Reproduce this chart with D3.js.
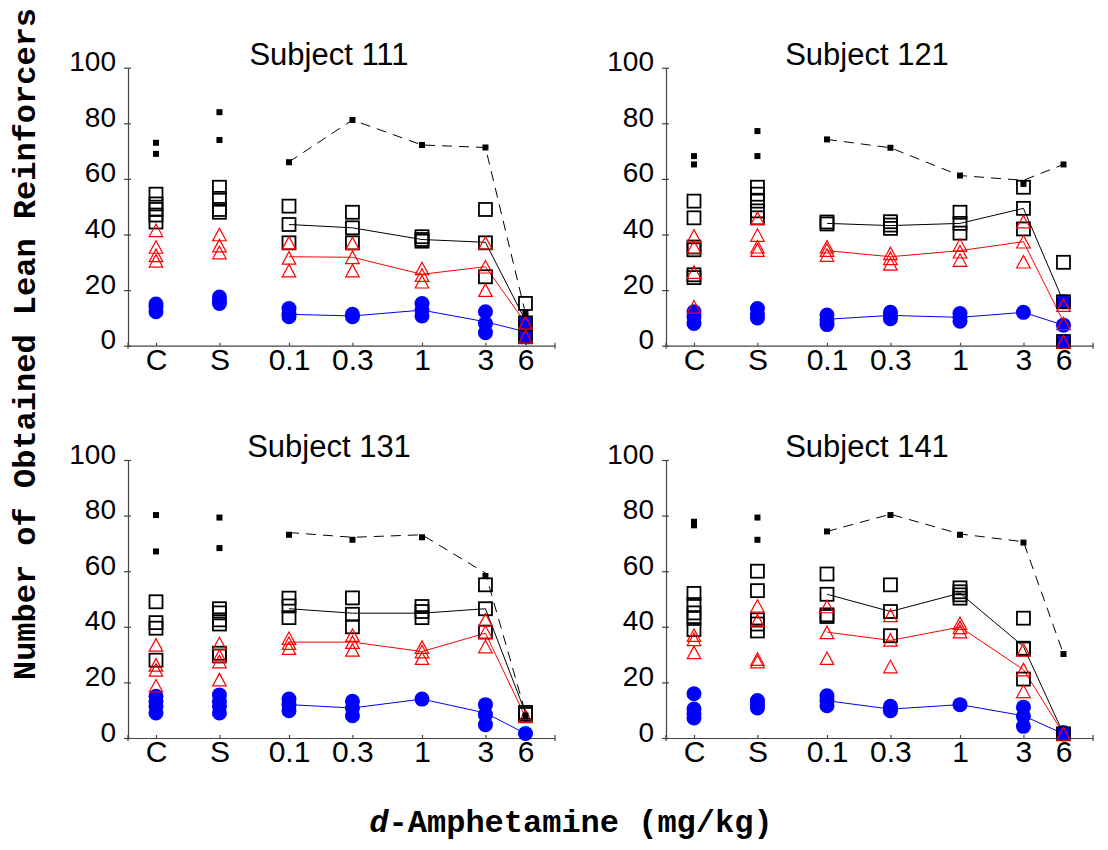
<!DOCTYPE html>
<html>
<head>
<meta charset="utf-8">
<script src="https://cdn.jsdelivr.net/npm/d3@7"></script>
<style>
  body { margin: 0; background: #fff; }
  svg { display: block; }
</style>
</head>
<body>
<svg id="chart" width="1108" height="850"></svg>
<script>
// x categories, drawn on a log dose axis (C and S sit at pseudo-doses)
const categories = ['C', 'S', '0.1', '0.3', '1', '3', '6'];
const dosePos = [0.01, 0.03, 0.1, 0.3, 1, 3, 6];
const lineIdx = [2, 3, 4, 5, 6];   // categories joined by the mean lines
const yTicks = [0, 20, 40, 60, 80, 100];
const subjects = ['Subject 111', 'Subject 121', 'Subject 131', 'Subject 141'];

// Subject 111
const s111Dots = [[73, 69], [84, 74], [66], [81.2], [72.2], [71.3], [11.6]];
const s111Dash = [66.1, 81.2, 72.2, 71.3, 11.6];
const s111Squares = [[54.5, 51, 49, 47, 44.5], [57, 53, 49, 48], [50.2, 43.6, 37], [48, 42.4, 37], [39.2, 38.2, 37.6], [49, 37, 24.8], [15.2, 8.2, 3.2]];
const s111SquareMean = [43.6, 42.4, 38.2, 37.2, 9];
const s111Triangles = [[41.5, 35.5, 32.5, 30.5], [40, 36, 33.5], [37, 31.6, 27], [36.8, 31.8, 27], [27.8, 25.4, 23], [37, 28.4, 20], [8.2, 3.2]];
const s111TriMean = [32, 31.8, 25.7, 28.4, 8.2];
const s111Circles = [[15, 14, 12.2], [17.5, 16, 15.2], [13.4, 11.5, 10.4], [11.3, 10.4], [15.2, 12.8, 10.7], [12.2, 8, 4.7], [8.2, 6, 3.2]];
const s111CircleMean = [11.3, 10.7, 12.8, 8.6, 5];

// Subject 121
const s121Dots = [[68.2, 65.2], [77.2, 68.2], [74.2], [71.2], [61.2], [58.2], [65.2]];
const s121Dash = [74.2, 71.2, 61.2, 59.5, 65.2];
const s121Squares = [[52, 46, 35.5, 34.5, 25.5, 24.5], [57, 54.5, 52, 48.5, 46], [44.5, 43.8], [44.6, 43.4, 42.2], [48, 44, 40.5], [57, 49.4, 42], [30, 15.8, 1.5]];
const s121SquareMean = [44, 43.2, 44, 49.4, 15.8];
const s121Triangles = [[39.5, 35.5, 26.5, 14], [45.8, 39.8, 35.6, 34.4], [35.6, 34.4, 32.6], [33.2, 31.4, 29.4], [36.2, 33.8, 30.8], [44.6, 37.4, 30.2], [14.6, 8, 1.4]];
const s121TriMean = [34.2, 32, 34.2, 37.4, 8.6];
const s121Circles = [[12.2, 10.4, 8], [13.4, 11.4, 10], [11, 9.2, 7.6], [12, 10.7, 9.7], [11.6, 10.2, 8.8], [12], [15.8, 7.4, 1.5]];
const s121CircleMean = [9.5, 10.9, 10.2, 12, 7.4];

// Subject 131
const s131Dots = [[80.2, 67.1], [79.3, 68.3], [73.1], [71.3], [72.2], [58.3], [8.1]];
const s131Dash = [73.9, 72.2, 73.1, 59.3, 9];
const s131Squares = [[49, 41.5, 39.5, 28], [46.5, 45, 42.5, 41, 30.5, 29.5], [50.3, 47.5, 43.3], [50.4, 44.5, 40], [47.3, 45.5, 43.3], [55.1, 46.5, 38.1], [9.2, 8.5]];
const s131SquareMean = [46.5, 44.9, 44.9, 46.5, 9];
const s131Triangles = [[33.5, 26.3, 24.5, 18.8], [34, 29.5, 27.5, 21], [35.9, 34.1, 32.3], [37, 34.5, 31.7], [32.7, 31.1, 28.7], [42.5, 38.1, 32.9], [7.8]];
const s131TriMean = [34.5, 34.5, 31.1, 37.7, 7.5];
const s131Circles = [[15, 13.2, 11.4, 9], [15.5, 13.2, 11.4, 9], [14, 12, 9.8], [13.2, 10.8, 8], [14], [12, 8.4, 4.8], [1.6]];
const s131CircleMean = [12, 10.8, 14, 9, 1.6];

// Subject 141
const s141Dots = [[77.8, 76.5], [79.3, 71.3], [74.3], [80.2], [73.1], [70.3], [30.2]];
const s141Dash = [74.3, 80.5, 73.4, 70.6, 30.2];
const s141Squares = [[52, 48, 45, 43, 39], [60, 53, 42.5, 41, 38.5], [59, 51.7, 44.3, 43.7], [55.1, 45.5, 36.8], [54, 52.6, 51.5, 50.3], [43.1, 32.3, 32, 21.2], [1.5]];
const s141SquareMean = [51.7, 45.5, 52.1, 32.9, 1.5];
const s141Triangles = [[37, 35.5, 30.8], [47.5, 42.2, 28.4, 27.5], [47.3, 38, 28.7], [44.1, 35.3, 25.7], [41.3, 39.8, 38.3], [31.7, 24.6, 16.8], [1.5]];
const s141TriMean = [38.1, 35.1, 39.9, 24.6, 1.5];
const s141Circles = [[15.9, 10.4, 8.7, 7.2], [13.5, 12, 10.8], [15.2, 13.5, 11.6], [11.4, 10.4, 9.8], [12], [11.1, 7.8, 4.2], [2, 1.5]];
const s141CircleMean = [13.4, 10.4, 12, 8, 1.5];

const panelData = [
    {title: subjects[0], dots: s111Dots, dash: s111Dash, squares: s111Squares, squareMean: s111SquareMean, tris: s111Triangles, triMean: s111TriMean, circles: s111Circles, circleMean: s111CircleMean},
    {title: subjects[1], dots: s121Dots, dash: s121Dash, squares: s121Squares, squareMean: s121SquareMean, tris: s121Triangles, triMean: s121TriMean, circles: s121Circles, circleMean: s121CircleMean},
    {title: subjects[2], dots: s131Dots, dash: s131Dash, squares: s131Squares, squareMean: s131SquareMean, tris: s131Triangles, triMean: s131TriMean, circles: s131Circles, circleMean: s131CircleMean},
    {title: subjects[3], dots: s141Dots, dash: s141Dash, squares: s141Squares, squareMean: s141SquareMean, tris: s141Triangles, triMean: s141TriMean, circles: s141Circles, circleMean: s141CircleMean}
];

// panel origins (top-left of plot area)
const origins = [[128, 67.7], [666, 67.7], [128, 460], [666, 460]];
const plotW = 427, plotH = 278;

const svg = d3.select('#chart');

const x = d3.scaleLog().domain([0.00616, 10]).range([0, plotW]);
const y = d3.scaleLinear().domain([0, 100]).range([plotH, 0]);

const AXIS_COLOR = '#444';
const SANS = 'Arial, "Liberation Sans", sans-serif';
const MONO = '"Courier New", "Liberation Mono", monospace';

// flatten category arrays into {pos, v} points
function flat(groups) {
    const out = [];
    groups.forEach((vals, i) => vals.forEach(v => out.push({pos: dosePos[i], v: v})));
    return out;
}

function linePts(vals) {
    return vals.map((v, j) => ({pos: dosePos[lineIdx[j]], v: v}));
}

const line = d3.line().x(d => x(d.pos)).y(d => y(d.v));

const triW = 13.5, triH = 12.5;
const triPath = `M0,${-triH / 2}L${triW / 2},${triH / 2}L${-triW / 2},${triH / 2}Z`;

panelData.forEach((p, k) => {
    const g = svg.append('g')
        .attr('transform', `translate(${origins[k][0]}, ${origins[k][1]})`);

    // title
    g.append('text')
        .attr('x', 201)
        .attr('y', -3)
        .attr('text-anchor', 'middle')
        .style('font-family', SANS)
        .style('font-size', '31px')
        .text(p.title);

    // y axis
    const yAxis = g.append('g')
        .call(d3.axisLeft(y).tickValues(yTicks).tickSizeInner(4).tickSizeOuter(0).tickPadding(8));
    yAxis.selectAll('.tick line').attr('x1', 3);
    yAxis.selectAll('text')
        .attr('dy', '0.11em')
        .style('font-family', SANS)
        .style('font-size', '28px')
        .attr('fill', '#000');

    // x axis
    const xAxis = g.append('g')
        .attr('transform', `translate(0, ${plotH})`)
        .call(d3.axisBottom(x).tickValues(dosePos).tickFormat((d, i) => categories[i])
            .tickSizeInner(-3).tickSizeOuter(0).tickPadding(3));
    xAxis.selectAll('text')
        .style('font-family', SANS)
        .style('font-size', '30px')
        .attr('fill', '#000');
    [0, plotW].forEach(px => {
        xAxis.append('line')
            .attr('x1', px).attr('x2', px)
            .attr('y1', -3).attr('y2', 3);
    });
    [yAxis, xAxis].forEach(a => {
        a.selectAll('path, line').attr('stroke', AXIS_COLOR).attr('stroke-width', 1.2);
    });

    // mean lines
    g.append('path')
        .datum(linePts(p.dash))
        .attr('d', line)
        .attr('fill', 'none')
        .attr('stroke', '#000')
        .attr('stroke-width', 1)
        .attr('stroke-dasharray', '10,7');
    [[p.squareMean, '#000'], [p.triMean, '#ff0000'], [p.circleMean, '#0000ff']].forEach(([vals, col]) => {
        g.append('path')
            .datum(linePts(vals))
            .attr('d', line)
            .attr('fill', 'none')
            .attr('stroke', col)
            .attr('stroke-width', 1);
    });

    // blue filled circles
    g.selectAll('circle.pt')
        .data(flat(p.circles))
        .enter()
        .append('circle')
        .attr('class', 'pt')
        .attr('cx', d => x(d.pos))
        .attr('cy', d => y(d.v))
        .attr('r', 7.5)
        .attr('fill', '#0000ff');

    // open squares
    g.selectAll('rect.sq')
        .data(flat(p.squares))
        .enter()
        .append('rect')
        .attr('class', 'sq')
        .attr('x', d => x(d.pos) - 6.5)
        .attr('y', d => y(d.v) - 6.5)
        .attr('width', 13)
        .attr('height', 13)
        .attr('fill', 'none')
        .attr('stroke', '#000')
        .attr('stroke-width', 1.8);

    // open red triangles
    g.selectAll('path.tri')
        .data(flat(p.tris))
        .enter()
        .append('path')
        .attr('class', 'tri')
        .attr('transform', d => `translate(${x(d.pos)}, ${y(d.v)})`)
        .attr('d', triPath)
        .attr('fill', 'none')
        .attr('stroke', '#ff0000')
        .attr('stroke-width', 1.2);

    // small filled black squares
    g.selectAll('rect.dot')
        .data(flat(p.dots))
        .enter()
        .append('rect')
        .attr('class', 'dot')
        .attr('x', d => x(d.pos) - 3)
        .attr('y', d => y(d.v) - 3)
        .attr('width', 6)
        .attr('height', 6)
        .attr('fill', '#000');
});

// shared axis titles
svg.append('text')
    .attr('transform', 'translate(35, 344) rotate(-90)')
    .attr('text-anchor', 'middle')
    .style('font-family', MONO)
    .style('font-weight', 'bold')
    .style('font-size', '32px')
    .text('Number of Obtained Lean Reinforcers');

const xt = svg.append('text')
    .attr('x', 571)
    .attr('y', 832)
    .attr('text-anchor', 'middle')
    .style('font-family', MONO)
    .style('font-weight', 'bold')
    .style('font-size', '32px');
xt.append('tspan').style('font-style', 'italic').text('d');
xt.append('tspan').text('-Amphetamine (mg/kg)');
</script>
</body>
</html>
